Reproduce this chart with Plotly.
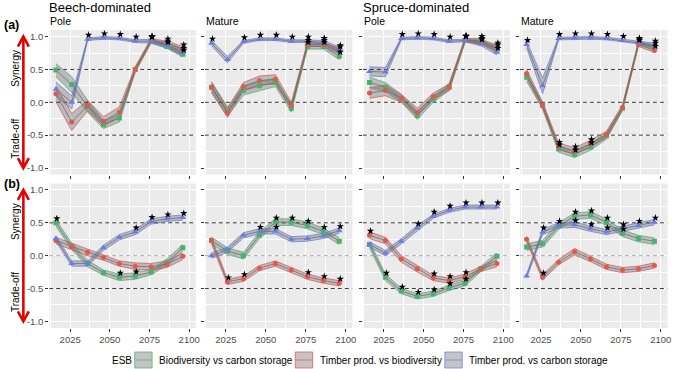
import plotly.graph_objects as go

YEARS = [2016, 2026, 2036, 2046, 2056, 2066, 2076, 2086, 2096]
SERIES = ["Biodiversity vs carbon storage", "Timber prod. vs biodiversity", "Timber prod. vs carbon storage"]
GROUPS = ["Beech-dominated", "Spruce-dominated"]
STAGES = ["Pole", "Mature", "Pole", "Mature"]
ROW_LABELS = ["(a)", "(b)"]
Y_TICKS = [-1.0, -0.5, 0.0, 0.5, 1.0]
Y_TICK_TEXT = ["-1.0", "-0.5", "0.0", "0.5", "1.0"]
X_TICKS = [2025, 2050, 2075, 2100]
REF_LINES = [0.5, 0.0, -0.5]

# ---- row (a) ----
A1_GREEN = [0.49, 0.27, -0.06, -0.34, -0.24, 0.50, 0.93, 0.85, 0.73]
A1_RED = [0.13, -0.30, -0.05, -0.29, -0.15, 0.50, 0.94, 0.90, 0.81]
A1_BLUE = [0.20, 0.00, 0.96, 0.98, 0.97, 0.93, 0.93, 0.87, 0.76]
A1_GREEN_CI = [0.10, 0.12, 0.09, 0.06, 0.06, 0.04, 0.03, 0.03, 0.04]
A1_RED_CI = [0.12, 0.13, 0.08, 0.07, 0.08, 0.04, 0.03, 0.03, 0.04]
A1_BLUE_CI = [0.11, 0.10, 0.02, 0.02, 0.02, 0.02, 0.03, 0.04, 0.05]
A1_GREEN_SIG = [0, 0, 0, 0, 0, 0, 1, 1, 1]
A1_RED_SIG = [0, 0, 0, 0, 0, 0, 1, 1, 1]
A1_BLUE_SIG = [0, 0, 1, 1, 1, 1, 1, 1, 1]

A2_GREEN = [0.23, -0.14, 0.18, 0.25, 0.30, -0.09, 0.85, 0.85, 0.70]
A2_RED = [0.23, -0.16, 0.24, 0.33, 0.35, -0.05, 0.88, 0.88, 0.78]
A2_BLUE = [0.90, 0.65, 0.92, 0.96, 0.96, 0.93, 0.93, 0.91, 0.80]
A2_GREEN_CI = [0.08, 0.07, 0.07, 0.07, 0.06, 0.06, 0.04, 0.04, 0.05]
A2_RED_CI = [0.08, 0.07, 0.06, 0.07, 0.07, 0.05, 0.03, 0.03, 0.04]
A2_BLUE_CI = [0.04, 0.05, 0.02, 0.02, 0.02, 0.02, 0.02, 0.03, 0.04]
A2_GREEN_SIG = [0, 0, 0, 0, 0, 0, 1, 1, 1]
A2_RED_SIG = [0, 0, 0, 0, 0, 0, 1, 1, 1]
A2_BLUE_SIG = [1, 0, 1, 1, 1, 1, 1, 1, 1]

A3_GREEN = [0.30, 0.23, 0.06, -0.20, 0.05, 0.23, 0.94, 0.94, 0.81]
A3_RED = [0.14, 0.18, 0.06, -0.15, 0.09, 0.23, 0.95, 0.91, 0.84]
A3_BLUE = [0.47, 0.46, 0.97, 0.98, 0.97, 0.93, 0.94, 0.89, 0.76]
A3_GREEN_CI = [0.08, 0.07, 0.06, 0.06, 0.05, 0.05, 0.03, 0.03, 0.04]
A3_RED_CI = [0.08, 0.08, 0.06, 0.06, 0.05, 0.05, 0.03, 0.03, 0.04]
A3_BLUE_CI = [0.07, 0.07, 0.02, 0.02, 0.02, 0.02, 0.02, 0.03, 0.04]
A3_GREEN_SIG = [0, 0, 0, 0, 0, 0, 1, 1, 1]
A3_RED_SIG = [0, 0, 0, 0, 0, 0, 1, 1, 1]
A3_BLUE_SIG = [0, 0, 1, 1, 1, 1, 1, 1, 1]

A4_GREEN = [0.38, -0.05, -0.71, -0.79, -0.68, -0.51, -0.09, 0.90, 0.84]
A4_RED = [0.44, -0.05, -0.67, -0.74, -0.63, -0.49, -0.08, 0.88, 0.79]
A4_BLUE = [0.88, 0.25, 0.97, 0.98, 0.98, 0.97, 0.94, 0.91, 0.87]
A4_GREEN_CI = [0.06, 0.05, 0.05, 0.05, 0.05, 0.05, 0.04, 0.03, 0.03]
A4_RED_CI = [0.06, 0.05, 0.05, 0.05, 0.05, 0.05, 0.04, 0.03, 0.03]
A4_BLUE_CI = [0.05, 0.12, 0.02, 0.02, 0.02, 0.02, 0.02, 0.02, 0.03]
A4_GREEN_SIG = [0, 0, 1, 1, 1, 0, 0, 1, 1]
A4_RED_SIG = [0, 0, 1, 1, 1, 0, 0, 1, 1]
A4_BLUE_SIG = [1, 0, 1, 1, 1, 1, 1, 1, 1]

# ---- row (b) ----
B1_GREEN = [0.50, 0.14, -0.12, -0.26, -0.33, -0.31, -0.25, -0.10, 0.12]
B1_RED = [0.23, 0.14, 0.05, -0.03, -0.12, -0.16, -0.17, -0.13, -0.01]
B1_BLUE = [0.26, -0.12, -0.12, 0.12, 0.28, 0.36, 0.52, 0.56, 0.58]
B1_GREEN_CI = [0.05, 0.05, 0.05, 0.04, 0.05, 0.05, 0.04, 0.05, 0.05]
B1_RED_CI = [0.05, 0.05, 0.05, 0.04, 0.04, 0.05, 0.05, 0.05, 0.05]
B1_BLUE_CI = [0.04, 0.04, 0.04, 0.04, 0.04, 0.04, 0.04, 0.04, 0.04]
B1_GREEN_SIG = [1, 0, 0, 0, 1, 1, 0, 0, 0]
B1_RED_SIG = [0, 0, 0, 0, 0, 0, 0, 0, 0]
B1_BLUE_SIG = [0, 0, 0, 0, 0, 1, 1, 1, 1]

B2_GREEN = [0.23, 0.07, 0.00, 0.31, 0.51, 0.51, 0.46, 0.37, 0.22]
B2_RED = [0.23, -0.40, -0.35, -0.19, -0.12, -0.22, -0.32, -0.38, -0.42]
B2_BLUE = [0.00, 0.09, 0.31, 0.37, 0.37, 0.25, 0.26, 0.30, 0.38]
B2_GREEN_CI = [0.05, 0.05, 0.05, 0.05, 0.05, 0.05, 0.05, 0.05, 0.05]
B2_RED_CI = [0.05, 0.04, 0.04, 0.04, 0.04, 0.04, 0.04, 0.04, 0.04]
B2_BLUE_CI = [0.04, 0.04, 0.04, 0.04, 0.04, 0.04, 0.04, 0.04, 0.04]
B2_GREEN_SIG = [0, 0, 0, 0, 1, 1, 1, 1, 0]
B2_RED_SIG = [0, 1, 1, 0, 0, 0, 1, 1, 1]
B2_BLUE_SIG = [0, 0, 0, 1, 1, 0, 0, 0, 1]

B3_GREEN = [0.17, -0.33, -0.54, -0.62, -0.58, -0.49, -0.42, -0.20, -0.01]
B3_RED = [0.31, 0.23, -0.05, -0.20, -0.34, -0.38, -0.32, -0.20, -0.12]
B3_BLUE = [0.17, 0.04, 0.22, 0.42, 0.60, 0.69, 0.74, 0.74, 0.74]
B3_GREEN_CI = [0.05, 0.05, 0.04, 0.04, 0.04, 0.04, 0.04, 0.04, 0.05]
B3_RED_CI = [0.05, 0.05, 0.05, 0.05, 0.04, 0.04, 0.04, 0.04, 0.05]
B3_BLUE_CI = [0.04, 0.04, 0.04, 0.04, 0.03, 0.03, 0.03, 0.03, 0.03]
B3_GREEN_SIG = [0, 1, 1, 1, 1, 1, 1, 0, 0]
B3_RED_SIG = [1, 0, 0, 0, 1, 1, 1, 0, 0]
B3_BLUE_SIG = [0, 0, 0, 1, 1, 1, 1, 1, 1]

B4_GREEN = [0.13, 0.18, 0.45, 0.60, 0.62, 0.51, 0.34, 0.26, 0.22]
B4_RED = [0.25, -0.33, -0.10, 0.06, -0.05, -0.17, -0.22, -0.20, -0.15]
B4_BLUE = [-0.31, 0.36, 0.46, 0.47, 0.41, 0.36, 0.41, 0.46, 0.51]
B4_GREEN_CI = [0.05, 0.05, 0.05, 0.05, 0.05, 0.05, 0.05, 0.05, 0.05]
B4_RED_CI = [0.04, 0.04, 0.04, 0.05, 0.04, 0.04, 0.04, 0.04, 0.04]
B4_BLUE_CI = [0.03, 0.04, 0.04, 0.04, 0.04, 0.04, 0.04, 0.04, 0.04]
B4_GREEN_SIG = [0, 0, 0, 1, 1, 1, 1, 0, 0]
B4_RED_SIG = [0, 1, 0, 0, 0, 0, 0, 0, 0]
B4_BLUE_SIG = [0, 1, 1, 1, 1, 1, 1, 1, 1]

PANELS = [
    [(A1_GREEN, A1_GREEN_CI, A1_GREEN_SIG), (A1_RED, A1_RED_CI, A1_RED_SIG), (A1_BLUE, A1_BLUE_CI, A1_BLUE_SIG)],
    [(A2_GREEN, A2_GREEN_CI, A2_GREEN_SIG), (A2_RED, A2_RED_CI, A2_RED_SIG), (A2_BLUE, A2_BLUE_CI, A2_BLUE_SIG)],
    [(A3_GREEN, A3_GREEN_CI, A3_GREEN_SIG), (A3_RED, A3_RED_CI, A3_RED_SIG), (A3_BLUE, A3_BLUE_CI, A3_BLUE_SIG)],
    [(A4_GREEN, A4_GREEN_CI, A4_GREEN_SIG), (A4_RED, A4_RED_CI, A4_RED_SIG), (A4_BLUE, A4_BLUE_CI, A4_BLUE_SIG)],
    [(B1_GREEN, B1_GREEN_CI, B1_GREEN_SIG), (B1_RED, B1_RED_CI, B1_RED_SIG), (B1_BLUE, B1_BLUE_CI, B1_BLUE_SIG)],
    [(B2_GREEN, B2_GREEN_CI, B2_GREEN_SIG), (B2_RED, B2_RED_CI, B2_RED_SIG), (B2_BLUE, B2_BLUE_CI, B2_BLUE_SIG)],
    [(B3_GREEN, B3_GREEN_CI, B3_GREEN_SIG), (B3_RED, B3_RED_CI, B3_RED_SIG), (B3_BLUE, B3_BLUE_CI, B3_BLUE_SIG)],
    [(B4_GREEN, B4_GREEN_CI, B4_GREEN_SIG), (B4_RED, B4_RED_CI, B4_RED_SIG), (B4_BLUE, B4_BLUE_CI, B4_BLUE_SIG)],
]

# ---- styles ----
W, H = 676, 369
COLORS = ["#4CAF72", "#E2574F", "#6A7BEA"]
OUTLINE = ["rgba(76,175,114,0.75)", "rgba(226,87,79,0.75)", "rgba(106,123,234,0.75)"]
SYMBOLS = ["square", "circle", "triangle-up"]
MSIZE = [5, 5, 6]
RIBBON_FILL = "rgba(90,90,90,0.34)"
FONT = "Liberation Sans, Arial, sans-serif"
PANEL_X = [(49.5, 197.0), (206.0, 354.5), (365.0, 513.0), (523.0, 671.5)]
PANEL_Y = [(30.0, 174.6), (183.4, 327.9)]
XRANGE = [2011.8, 2104.2]
YRANGE = [-1.1, 1.1]
STAR_OFFSET = 0.065


def px(x):
    return x / W


def py(y):
    return 1 - y / H


fig = go.Figure()
layout = dict(
    width=W, height=H, margin=dict(l=0, r=0, t=0, b=0),
    paper_bgcolor="white", plot_bgcolor="rgba(0,0,0,0)",
    showlegend=False, font=dict(family=FONT, color="black"),
)
shapes = []
annotations = []

for n in range(8):
    r, c = divmod(n, 4)
    idx = n + 1
    xa = "x" if idx == 1 else f"x{idx}"
    ya = "y" if idx == 1 else f"y{idx}"
    xkey = "xaxis" if idx == 1 else f"xaxis{idx}"
    ykey = "yaxis" if idx == 1 else f"yaxis{idx}"
    x0, x1 = PANEL_X[c]
    y0, y1 = PANEL_Y[r]
    layout[xkey] = dict(
        domain=[px(x0), px(x1)], range=XRANGE, anchor=ya,
        tickvals=X_TICKS, ticktext=[str(t) for t in X_TICKS] if r == 1 else [""] * 4,
        showticklabels=True, ticks="outside", ticklen=3, tickcolor="#333333", tickwidth=0.8,
        showgrid=True, gridcolor="white", gridwidth=1.1, zeroline=False, showline=False,
        tickfont=dict(size=9.5, color="#4D4D4D", family=FONT),
        minor=dict(tickvals=[2012.5, 2037.5, 2062.5, 2087.5], showgrid=True, gridcolor="white", gridwidth=0.5, ticks=""),
        fixedrange=True,
    )
    layout[ykey] = dict(
        domain=[py(y1), py(y0)], range=YRANGE, anchor=xa,
        tickvals=Y_TICKS, ticktext=Y_TICK_TEXT if c == 0 else [""] * 5,
        ticks="outside", ticklen=3, tickcolor="#333333", tickwidth=0.8,
        showgrid=True, gridcolor="white", gridwidth=1.1, zeroline=False, showline=False,
        tickfont=dict(size=9.5, color="#4D4D4D", family=FONT),
        minor=dict(tickvals=[-0.75, -0.25, 0.25, 0.75], showgrid=True, gridcolor="white", gridwidth=0.5, ticks=""),
        fixedrange=True,
    )
    # panel background (paper coords)
    shapes.append(dict(type="rect", xref="paper", yref="paper", x0=px(x0), x1=px(x1), y0=py(y1), y1=py(y0),
                       fillcolor="#EBEBEB", line=dict(width=0), layer="below"))

    for s, (vals, ci, sig) in enumerate(PANELS[n]):
        upper = [v + e for v, e in zip(vals, ci)]
        lower = [v - e for v, e in zip(vals, ci)]
        fig.add_trace(go.Scatter(x=YEARS + YEARS[::-1], y=upper + lower[::-1], xaxis=xa, yaxis=ya,
                                 mode="lines", fill="toself", fillcolor=RIBBON_FILL,
                                 line=dict(width=0), hoverinfo="skip"))
    # reference dashed lines
    for yv in REF_LINES:
        col = "#A0A0A0" if (r == 1 and yv == 0.0) else "#222222"
        fig.add_trace(go.Scatter(x=XRANGE, y=[yv, yv], xaxis=xa, yaxis=ya, mode="lines",
                                 line=dict(color=col, width=0.9, dash="4px,3px"), hoverinfo="skip"))
    for s, (vals, ci, sig) in enumerate(PANELS[n]):
        upper = [v + e for v, e in zip(vals, ci)]
        lower = [v - e for v, e in zip(vals, ci)]
        for edge in (upper, lower):
            fig.add_trace(go.Scatter(x=YEARS, y=edge, xaxis=xa, yaxis=ya, mode="lines",
                                     line=dict(color=OUTLINE[s], width=1), hoverinfo="skip"))
    for s, (vals, ci, sig) in enumerate(PANELS[n]):
        fig.add_trace(go.Scatter(x=YEARS, y=vals, xaxis=xa, yaxis=ya, mode="lines+markers",
                                 name=SERIES[s],
                                 line=dict(color="#707070", width=0.8),
                                 marker=dict(color=COLORS[s], symbol=SYMBOLS[s], size=MSIZE[s], line=dict(width=0))))
    for s, (vals, ci, sig) in enumerate(PANELS[n]):
        sx = [yr + 0.6 for yr, f in zip(YEARS, sig) if f]
        sy = [v + STAR_OFFSET for v, f in zip(vals, sig) if f]
        fig.add_trace(go.Scatter(x=sx, y=sy, xaxis=xa, yaxis=ya, mode="markers",
                                 marker=dict(symbol="star", size=5.5, color="black", line=dict(width=0)),
                                 hoverinfo="skip"))

# ---- text annotations ----
def text(x, y, t, size, xanchor="left", bold=False, angle=0, color="black"):
    annotations.append(dict(x=px(x), y=py(y), xref="paper", yref="paper", text=f"<b>{t}</b>" if bold else t,
                            showarrow=False, xanchor=xanchor, yanchor="middle", textangle=angle,
                            font=dict(size=size, color=color, family=FONT)))

text(47.5, 7.5, GROUPS[0], 13)
text(363.5, 7.5, GROUPS[1], 13)
for c in range(4):
    text(PANEL_X[c][0] - 1, 21, STAGES[c], 10.5)
text(2, 25, ROW_LABELS[0], 12.5, bold=True)
text(2, 184, ROW_LABELS[1], 12.5, bold=True)

for r in range(2):
    y0, y1 = PANEL_Y[r]
    ytop = y0 + (y1 - y0) * (YRANGE[1] - 1.0) / (YRANGE[1] - YRANGE[0])
    ybot = y0 + (y1 - y0) * (YRANGE[1] + 1.0) / (YRANGE[1] - YRANGE[0])
    ymid = (ytop + ybot) / 2
    text(15.5, ymid - 34, "Synergy", 10, xanchor="center", angle=-90)
    text(15.5, ymid + 36, "Trade-off", 10, xanchor="center", angle=-90)
    ax = 23.5
    red = "#E30000"
    shapes.append(dict(type="line", xref="paper", yref="paper", x0=px(ax), x1=px(ax),
                       y0=py(ytop + 1), y1=py(ybot - 1), line=dict(color=red, width=2.6)))
    for tip, d in ((ytop, 1), (ybot, -1)):
        path = (f"M {px(ax - 5.5)},{py(tip + d * 10)} L {px(ax)},{py(tip)} "
                f"L {px(ax + 5.5)},{py(tip + d * 10)}")
        shapes.append(dict(type="path", xref="paper", yref="paper", path=path,
                           line=dict(color=red, width=2.6)))

# ---- manual legend ----
LEG_Y = 360
text(110.5, LEG_Y, "ESB", 10)
LEG_BOX_X = [135.5, 297.0, 447.5]
for s in range(3):
    bx = LEG_BOX_X[s]
    shapes.append(dict(type="rect", xref="paper", yref="paper", x0=px(bx), x1=px(bx + 17.5),
                       y0=py(LEG_Y + 8), y1=py(LEG_Y - 8), fillcolor="#C4C4C4",
                       line=dict(color=OUTLINE[s], width=1)))
    shapes.append(dict(type="line", xref="paper", yref="paper", x0=px(bx + 1), x1=px(bx + 16.5),
                       y0=py(LEG_Y), y1=py(LEG_Y), line=dict(color=OUTLINE[s], width=1)))
    text(bx + 22.5, LEG_Y, SERIES[s], 10)

# legend markers through a paper-sized overlay axis
layout["xaxis9"] = dict(domain=[0, 1], range=[0, W], visible=False, anchor="y9", fixedrange=True)
layout["yaxis9"] = dict(domain=[0, 1], range=[H, 0], visible=False, anchor="x9", fixedrange=True)
for s in range(3):
    fig.add_trace(go.Scatter(x=[LEG_BOX_X[s] + 8.75], y=[LEG_Y], xaxis="x9", yaxis="y9", mode="markers",
                             marker=dict(color=COLORS[s], symbol=SYMBOLS[s], size=MSIZE[s] - 1, line=dict(width=0)),
                             hoverinfo="skip"))

layout["shapes"] = shapes
layout["annotations"] = annotations
fig.update_layout(**layout)
fig.write_html("out.html", config={"displayModeBar": False},
               post_script="document.body.style.margin='0';document.body.style.overflow='hidden';")
